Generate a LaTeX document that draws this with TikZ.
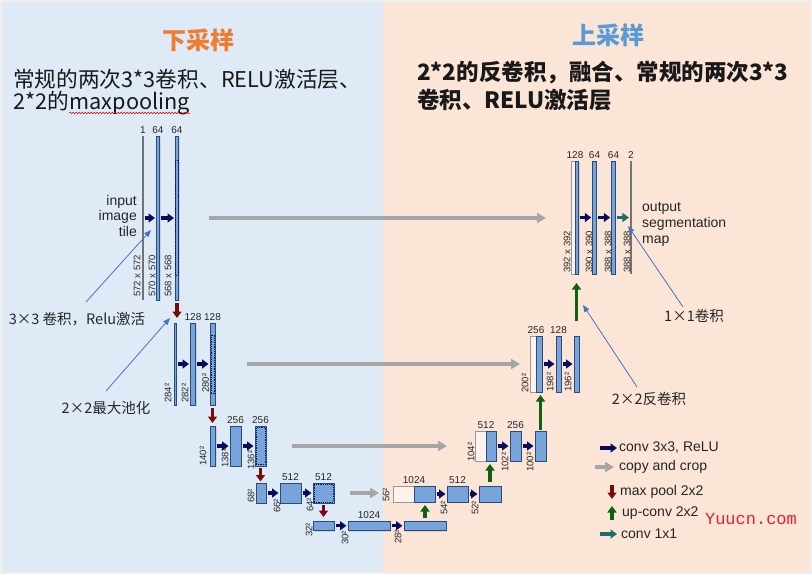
\documentclass[tikz,border=0pt]{standalone}
\usepackage{fontspec}
\setmainfont{Liberation Sans}
\newfontfamily\cjk{Noto Sans CJK SC}
\newfontfamily\monof{Liberation Mono}
\usetikzlibrary{arrows.meta,shadows,decorations.pathmorphing}
\definecolor{frameC}{HTML}{EFEFEF}
\definecolor{bgL}{HTML}{DEEBF7}
\definecolor{bgR}{HTML}{FBE5D6}
\definecolor{titleO}{HTML}{ED7D31}
\definecolor{titleB}{HTML}{5B9BD5}
\definecolor{barF}{HTML}{76A4DB}
\definecolor{barD}{HTML}{2B4A78}
\definecolor{convC}{HTML}{0B0B5C}
\definecolor{copyC}{HTML}{A6A6A6}
\definecolor{poolC}{HTML}{7A0A0A}
\definecolor{upC}{HTML}{0E620E}
\definecolor{tealC}{HTML}{1C6E6E}
\definecolor{annoC}{HTML}{4472C4}
\definecolor{txtC}{HTML}{262626}
\definecolor{wmC}{HTML}{F01E28}
\tikzset{
  bar/.style={draw=barD, fill=barF, line width=0.6pt, inner sep=0pt, outer sep=0pt,
    drop shadow={shadow xshift=1.2pt, shadow yshift=-1.2pt, opacity=0.22}},
  wbox/.style={draw=black!40, fill=white, fill opacity=0.55, line width=0.6pt, inner sep=0pt, outer sep=0pt},
  gline/.style={draw=none, fill=black!55, inner sep=0pt, outer sep=0pt},
  cropbox/.style={draw=convC, line width=0.9pt, dash pattern=on 1.2pt off 1pt, inner sep=0pt, outer sep=0pt},
  num/.style={font=\fontsize{10}{12}\selectfont, text=txtC, inner sep=2pt, anchor=south},
  dimlab/.style={font=\fontsize{9.5}{11}\selectfont, text=txtC, inner sep=0pt, rotate=90, anchor=west},
  fat/.style={line width=3.2pt, -{Triangle[length=6.5pt,width=9pt]}},
  conv/.style={fat, draw=convC, shorten <=1.5pt, shorten >=1.5pt},
  pool/.style={fat, draw=poolC},
  upconv/.style={fat, draw=upC},
  convone/.style={fat, draw=tealC, shorten <=1.5pt, shorten >=1.5pt},
  copyarr/.style={draw=copyC, line width=3.6pt, -{Triangle[length=9pt,width=10pt]}},
  anno/.style={draw=annoC, line width=0.8pt, -{Triangle[length=7pt,width=5.5pt]}},
  annotext/.style={font=\cjk\fontsize{14.5}{16}\selectfont, text=txtC, inner sep=0pt},
  legtext/.style={font=\fontsize{14}{16}\selectfont, text=txtC, anchor=west, inner sep=0pt},
  desc/.style={font=\cjk\fontsize{21.7}{24}\selectfont, text=black!90, anchor=base west, inner sep=0pt},
  descb/.style={font=\cjk\bfseries\fontsize{22.5}{24}\selectfont, text=black!90, anchor=base west, inner sep=0pt},
}
\begin{document}
\begin{tikzpicture}[x=1pt,y=-1pt]
\useasboundingbox (0,0) rectangle (812,574);
\fill[frameC] (0,0) rectangle (812,574);
\fill[bgL] (2,2) rectangle (383,572);
\fill[bgR] (383,2) rectangle (810,572);

% titles and descriptions
\node[font=\cjk\bfseries\fontsize{24}{28}\selectfont, text=titleO] (tl) at (198,40) {下采样};
\node[font=\cjk\bfseries\fontsize{24}{28}\selectfont, text=titleB] (tr) at (608,35) {上采样};
\node[desc] (dl1) at (13,87) {常规的两次3*3卷积、RELU激活层、};
\node[desc] (dl2) at (13,109.5) {2*2的};
\node[desc] (dl3) at (dl2.base east) {maxpooling};
\coordinate (wv1) at ([yshift=-3.5pt]dl3.base west);
\coordinate (wv2) at ([yshift=-3.5pt]dl3.base east);
\draw[red!85!black, line width=0.5pt, decorate, decoration={snake,amplitude=0.7pt,segment length=3pt}] (wv1) -- (wv2);
\node[descb] (dr1) at (417,80) {2*2的反卷积，融合、常规的两次3*3};
\node[descb] (dr2) at (417,108) {卷积、RELU激活层};

% ---------- level 1 left
\node[gline, minimum width=1.5pt, minimum height=164pt] (l1a) at (143,218) {};
\node[bar, minimum width=3pt, minimum height=164pt] (l1b) at (158,218) {};
\node[bar, minimum width=3pt, minimum height=164pt] (l1c) at (177,218) {};
\node[cropbox, minimum width=3pt, minimum height=115pt] (l1x) at (177,217.5) {};
\node[num] (n1a) at (l1a.north) {1};
\node[num] (n1b) at (l1b.north) {64};
\node[num] (n1c) at (l1c.north) {64};
\node[dimlab] (d1a) at (137,297) {572 x 572};
\node[dimlab] (d1b) at (152,297) {570 x 570};
\node[dimlab] (d1c) at (168,297) {568 x 568};
\draw[conv] (l1a.east) -- (l1b.west);
\draw[conv] (l1b.east) -- (l1c.west);
\node[font=\fontsize{14}{15.5}\selectfont, align=right, anchor=east, text=txtC, inner sep=0pt] (inp) at (137,215.5) {input\\image\\tile};

% ---------- level 1 right
\node[wbox, minimum width=4pt, minimum height=113pt] (r1w) at (573,217.5) {};
\node[bar, minimum width=3.5pt, minimum height=113pt] (r1a) at (576.75,217.5) {};
\node[bar, minimum width=3.5pt, minimum height=113pt] (r1b) at (594.5,217.5) {};
\node[bar, minimum width=3.5pt, minimum height=113pt] (r1c) at (613.5,217.5) {};
\node[gline, minimum width=1.2pt, minimum height=113pt] (r1d) at (631,217.5) {};
\node[num] (m1a) at (r1w.north east) {128};
\node[num] (m1b) at (r1b.north) {64};
\node[num] (m1c) at (r1c.north) {64};
\node[num] (m1d) at (r1d.north) {2};
\node[dimlab] (e1a) at (567,273) {392 x 392};
\node[dimlab] (e1b) at (589,273) {390 x 390};
\node[dimlab] (e1c) at (608,273) {388 x 388};
\node[dimlab] (e1d) at (627,273) {388 x 388};
\draw[conv] (r1a.east) -- (r1b.west);
\draw[conv] (r1b.east) -- (r1c.west);
\draw[convone] (r1c.east) -- (r1d.west);
\node[font=\fontsize{14}{16}\selectfont, align=left, anchor=west, text=txtC, inner sep=0pt] (outp) at (642,224) {output\\segmentation\\map};

% ---------- level 2 left
\node[bar, minimum width=2pt, minimum height=82pt] (l2a) at (175,364) {};
\node[bar, minimum width=5pt, minimum height=82pt] (l2b) at (193,364) {};
\node[bar, minimum width=5pt, minimum height=82pt] (l2c) at (212.5,364) {};
\node[cropbox, minimum width=3pt, minimum height=58pt] (l2x) at (212.5,364) {};
\node[num] (n2b) at (l2b.north) {128};
\node[num] (n2c) at (l2c.north) {128};
\node[dimlab] (d2a) at (168,403) {284²};
\node[dimlab] (d2b) at (185,403) {282²};
\node[dimlab] (d2c) at (205.5,393) {280²};
\draw[conv] (l2a.east) -- (l2b.west);
\draw[conv] (l2b.east) -- (l2c.west);

% ---------- level 2 right
\node[wbox, minimum width=6pt, minimum height=56pt] (r2w) at (533,364) {};
\node[bar, minimum width=6pt, minimum height=56pt] (r2a) at (539,364) {};
\node[bar, minimum width=5pt, minimum height=56pt] (r2b) at (558.5,364) {};
\node[bar, minimum width=5pt, minimum height=56pt] (r2c) at (576.5,364) {};
\node[num] (m2a) at (r2w.north east) {256};
\node[num] (m2b) at (r2b.north) {128};
\node[dimlab] (e2a) at (525,393) {200²};
\node[dimlab] (e2b) at (550,392) {198²};
\node[dimlab] (e2c) at (568,392) {196²};
\draw[conv] (r2a.east) -- (r2b.west);
\draw[conv] (r2b.east) -- (r2c.west);

% ---------- level 3 left
\node[bar, minimum width=5.5pt, minimum height=40pt] (l3a) at (212.75,446) {};
\node[bar, minimum width=11pt, minimum height=40pt] (l3b) at (235.5,446) {};
\node[bar, minimum width=11pt, minimum height=40pt] (l3c) at (260.5,446) {};
\node[cropbox, minimum width=9pt, minimum height=37pt] (l3x) at (260.5,446) {};
\node[num] (n3b) at (l3b.north) {256};
\node[num] (n3c) at (l3c.north) {256};
\node[dimlab] (d3a) at (203,466) {140²};
\node[dimlab] (d3b) at (225,468) {138²};
\node[dimlab] (d3c) at (251,470) {136²};
\draw[conv] (l3a.east) -- (l3b.west);
\draw[conv] (l3b.east) -- (l3c.west);

% ---------- level 3 right
\node[wbox, minimum width=11pt, minimum height=30pt] (r3w) at (480.5,446) {};
\node[bar, minimum width=10pt, minimum height=30pt] (r3a) at (491,446) {};
\node[bar, minimum width=11pt, minimum height=30pt] (r3b) at (515.5,446) {};
\node[bar, minimum width=11pt, minimum height=30pt] (r3c) at (540.5,446) {};
\node[num] (m3a) at (r3w.north east) {512};
\node[num] (m3b) at (r3b.north) {256};
\node[dimlab] (e3a) at (471,462) {104²};
\node[dimlab] (e3b) at (505,472) {102²};
\node[dimlab] (e3c) at (530,472) {100²};
\draw[conv] (r3a.east) -- (r3b.west);
\draw[conv] (r3b.east) -- (r3c.west);

% ---------- level 4 left
\node[bar, minimum width=10pt, minimum height=20pt] (l4a) at (261,493) {};
\node[bar, minimum width=21pt, minimum height=20pt] (l4b) at (290.5,493) {};
\node[bar, minimum width=21pt, minimum height=20pt] (l4c) at (323.5,493) {};
\node[cropbox, minimum width=19pt, minimum height=18pt] (l4x) at (323.5,493) {};
\node[num] (n4b) at (l4b.north) {512};
\node[num] (n4c) at (l4c.north) {512};
\node[dimlab] (d4a) at (251,503) {68²};
\node[dimlab] (d4b) at (277,513) {66²};
\node[dimlab] (d4c) at (310,512) {64²};
\draw[conv] (l4a.east) -- (l4b.west);
\draw[conv] (l4b.east) -- (l4c.west);

% ---------- level 4 right
\node[wbox, minimum width=21pt, minimum height=16pt] (r4w) at (403.5,494) {};
\node[bar, minimum width=21pt, minimum height=16pt] (r4a) at (424.5,494) {};
\node[bar, minimum width=21pt, minimum height=16pt] (r4b) at (457.5,494) {};
\node[bar, minimum width=22pt, minimum height=16pt] (r4c) at (490,494) {};
\node[num] (m4a) at (r4w.north east) {1024};
\node[num] (m4b) at (r4b.north) {512};
\node[dimlab] (e4a) at (386,502) {56²};
\node[dimlab] (e4b) at (444,515) {54²};
\node[dimlab] (e4c) at (475,515) {52²};
\draw[conv] (r4a.east) -- (r4b.west);
\draw[conv] (r4b.east) -- (r4c.west);

% ---------- level 5
\node[bar, minimum width=21pt, minimum height=9.5pt] (l5a) at (323.5,525.75) {};
\node[bar, minimum width=42pt, minimum height=9.5pt] (l5b) at (369,525.75) {};
\node[bar, minimum width=42pt, minimum height=9.5pt] (l5c) at (425,525.75) {};
\node[num] (n5b) at (l5b.north) {1024};
\node[dimlab] (d5a) at (309,537) {32²};
\node[dimlab] (d5b) at (345,545) {30²};
\node[dimlab] (d5c) at (398,544) {28²};
\draw[conv] (l5a.east) -- (l5b.west);
\draw[conv] (l5b.east) -- (l5c.west);

% ---------- max pool
\draw[pool, shorten <=3pt, shorten >=5pt] (l1c.south) -- (l1c.south |- l2a.north);
\draw[pool, shorten <=3pt, shorten >=3pt] (l2c.south) -- (l2c.south |- l3a.north);
\draw[pool, shorten <=1.5pt, shorten >=1.5pt] (l3c.south) -- (l3c.south |- l4a.north);
\draw[pool, shorten <=2pt, shorten >=4pt] (l4c.south) -- (l4c.south |- l5a.north);

% ---------- up-conv
\draw[upconv, shorten <=3pt, shorten >=3pt] (l5c.north) -- (l5c.north |- r4a.south);
\draw[upconv, shorten <=4pt, shorten >=3pt] (r4c.north) -- (r4c.north |- r3a.south);
\draw[upconv, shorten <=1pt, shorten >=3pt] (r3c.north) -- (r3c.north |- r2a.south);
\draw[upconv, shorten <=15pt, shorten >=9pt] (r2c.north) -- (r2c.north |- r1a.south);

% ---------- copy and crop
\draw[copyarr, shorten <=30pt, shorten >=25pt] (l1c.east) -- (l1c.east -| r1w.west);
\draw[copyarr, shorten <=32pt, shorten >=10pt] (l2c.east) -- (l2c.east -| r2w.west);
\draw[copyarr, shorten <=26pt, shorten >=28pt] (l3c.east) -- (l3c.east -| r3w.west);
\draw[copyarr, shorten <=16pt, shorten >=14pt] (l4c.east) -- (l4c.east -| r4w.west);

% ---------- legend
\coordinate (g1a) at (600,448); \coordinate (g1b) at (617,448);
\draw[fat, draw=convC] (g1a) -- (g1b);
\node[legtext] (g1t) at (619,448) {conv 3x3, ReLU};
\coordinate (g2a) at (595,467); \coordinate (g2b) at (614,467);
\draw[copyarr] (g2a) -- (g2b);
\node[legtext] (g2t) at (619,467) {copy and crop};
\coordinate (g3a) at (612,485); \coordinate (g3b) at (612,499);
\draw[fat, draw=poolC] (g3a) -- (g3b);
\node[legtext] (g3t) at (620,492) {max pool 2x2};
\coordinate (g4a) at (612,520); \coordinate (g4b) at (612,506);
\draw[fat, draw=upC] (g4a) -- (g4b);
\node[legtext] (g4t) at (622,513) {up-conv 2x2};
\coordinate (g5a) at (600,534); \coordinate (g5b) at (617,534);
\draw[fat, draw=tealC] (g5a) -- (g5b);
\node[legtext] (g5t) at (621,534) {conv 1x1};
\node[font=\monof\fontsize{17}{20}\selectfont, text=wmC, inner sep=0pt] (wm) at (751,519) {Yuucn.com};

% ---------- annotations
\node[annotext] (t1) at (77,319) {3×3 卷积，Relu激活};
\coordinate (t1s) at (86,302); \coordinate (t1e) at (151,230);
\draw[anno] (t1s) -- (t1e);
\node[annotext] (t2) at (106,408) {2×2最大池化};
\coordinate (t2s) at (106,391); \coordinate (t2e) at (170,318);
\draw[anno] (t2s) -- (t2e);
\node[annotext] (t3) at (694,316) {1×1卷积};
\coordinate (t3s) at (683,307); \coordinate (t3e) at (628,226);
\draw[anno] (t3s) -- (t3e);
\node[annotext] (t4) at (649,399) {2×2反卷积};
\coordinate (t4s) at (637,387); \coordinate (t4e) at (583,305);
\draw[anno] (t4s) -- (t4e);
\end{tikzpicture}
\end{document}
